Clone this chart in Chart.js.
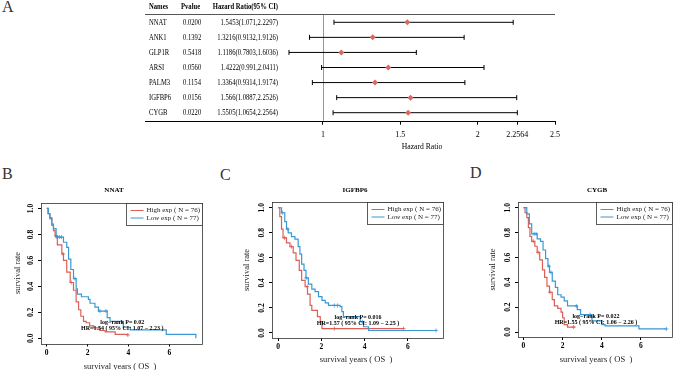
<!DOCTYPE html>
<html>
<head>
<meta charset="utf-8">
<script src="https://cdn.jsdelivr.net/npm/chart.js@4.4.1/dist/chart.umd.min.js"></script>
<style>
  html, body { margin: 0; padding: 0; background: #fff; }
  body { width: 677px; height: 370px; position: relative; overflow: hidden; font-family: "Liberation Serif", serif; }
  canvas { position: absolute; }
  .letter { position: absolute; font-size: 16px; line-height: 1; color: #333; }
</style>
</head>
<body>
<div class="letter" style="left:2px;top:-1px">A</div>
<div class="letter" style="left:2px;top:166px">B</div>
<div class="letter" style="left:220px;top:167px">C</div>
<div class="letter" style="left:470px;top:165px">D</div>

<canvas id="forest" style="left:0;top:0" width="677" height="160"></canvas>
<canvas id="kmB" style="left:0;top:175px" width="225" height="195"></canvas>
<canvas id="kmC" style="left:225px;top:175px" width="230" height="195"></canvas>
<canvas id="kmD" style="left:455px;top:175px" width="222" height="195"></canvas>

<script>
// ---- forest plot data (panel A) ----
const geneNames = ["NNAT", "ANK1", "GLP1R", "ARSI", "PALM3", "IGFBP6", "CYGB"];
const pValues = ["0.0200", "0.1392", "0.5418", "0.0560", "0.1154", "0.0156", "0.0220"];
const hazardRatios = [1.5453, 1.3216, 1.1186, 1.4222, 1.3364, 1.566, 1.5505];
const ciLower = [1.071, 0.9132, 0.7803, 0.991, 0.9314, 1.0887, 1.0654];
const ciUpper = [2.2297, 1.9126, 1.6036, 2.0411, 1.9174, 2.2526, 2.2564];
const hrTicks = [1, 1.5, 2, 2.2564, 2.5];

// ---- Kaplan-Meier curves (panels B, C, D): time in years, survival rate ----
const nnatHighT = [0, 0.06, 0.15, 0.25, 0.33, 0.41, 0.52, 0.74, 0.82, 0.98, 1.15, 1.31, 1.44, 1.56, 1.67, 1.8, 1.93, 2.1, 2.3, 2.6, 2.86, 3.35, 3.97];
const nnatHighS = [1, 0.96, 0.93, 0.87, 0.83, 0.79, 0.72, 0.65, 0.6, 0.51, 0.43, 0.37, 0.28, 0.22, 0.17, 0.13, 0.12, 0.095, 0.08, 0.06, 0.05, 0.03, 0.025];
const nnatLowT = [0, 0.08, 0.16, 0.25, 0.33, 0.46, 0.82, 0.98, 1.07, 1.18, 1.31, 1.44, 1.5, 1.7, 2.04, 2.12, 2.36, 2.53, 2.96, 3.1, 3.75, 4.09, 5.85, 7.3];
const nnatLowS = [1, 0.96, 0.92, 0.88, 0.845, 0.78, 0.74, 0.7, 0.61, 0.53, 0.46, 0.38, 0.34, 0.32, 0.3, 0.27, 0.24, 0.21, 0.16, 0.13, 0.085, 0.065, 0.03, 0.0];
const nnatHighCens = [0.45, 0.8, 1.2, 3.97];
const nnatLowCens = [0.5, 0.62, 0.72, 1.38, 2.6, 2.9];

const igfbp6HighT = [0, 0.08, 0.16, 0.23, 0.39, 0.55, 0.7, 0.83, 0.98, 1.09, 1.25, 1.36, 1.48, 1.56, 1.82, 1.95, 2.03, 5.8];
const igfbp6HighS = [1, 0.93, 0.83, 0.76, 0.72, 0.69, 0.64, 0.58, 0.5, 0.42, 0.37, 0.31, 0.22, 0.18, 0.13, 0.09, 0.035, 0.035];
const igfbp6LowT = [0, 0.16, 0.31, 0.39, 0.47, 0.62, 0.78, 0.93, 1.01, 1.09, 1.2, 1.29, 1.4, 1.56, 1.71, 1.87, 2.03, 2.18, 2.33, 2.87, 2.95, 3.02, 3.8, 3.95, 4.18, 7.3];
const igfbp6LowS = [1, 0.96, 0.89, 0.83, 0.8, 0.77, 0.75, 0.69, 0.63, 0.55, 0.5, 0.44, 0.39, 0.35, 0.33, 0.29, 0.26, 0.24, 0.22, 0.21, 0.17, 0.13, 0.09, 0.05, 0.02, 0.02];
const igfbp6HighCens = [0.3, 0.62, 1.35, 2.6, 5.8];
const igfbp6LowCens = [0.2, 0.45, 1.3, 2.6, 2.75, 3.9, 7.3];

const cygbHighT = [0, 0.08, 0.17, 0.25, 0.33, 0.42, 0.58, 0.7, 0.83, 0.97, 1.08, 1.2, 1.33, 1.47, 1.58, 1.75, 1.92, 2.0, 2.08, 2.25, 2.65];
const cygbHighS = [1, 0.96, 0.92, 0.84, 0.77, 0.73, 0.69, 0.64, 0.58, 0.5, 0.44, 0.37, 0.32, 0.26, 0.21, 0.19, 0.16, 0.115, 0.06, 0.04, 0.04];
const cygbLowT = [0, 0.17, 0.3, 0.42, 0.7, 0.87, 1.0, 1.13, 1.25, 1.33, 1.47, 1.63, 1.75, 1.92, 2.08, 2.25, 2.75, 2.92, 3.5, 4.0, 4.17, 5.9, 7.3];
const cygbLowS = [1, 0.95, 0.87, 0.79, 0.75, 0.73, 0.66, 0.59, 0.53, 0.48, 0.41, 0.36, 0.3, 0.28, 0.25, 0.21, 0.18, 0.14, 0.09, 0.06, 0.05, 0.025, 0.025];
const cygbHighCens = [0.5, 0.75, 1.35, 2.55];
const cygbLowCens = [0.55, 0.65, 1.3, 1.4, 2.7, 3.4, 7.3];

const kmXTicks = [0, 2, 4, 6];
const kmYTicks = [0, 0.2, 0.4, 0.6, 0.8, 1.0];

const SERIF = "'Liberation Serif', 'Times New Roman', serif";
const RED = "#dc5f57";
const BLUE = "#3a98d4";

// squeezed text, the table in panel A is set in a narrow face
function squeezeText(ctx, text, x, y, k) {
  const w = ctx.measureText(text).width;
  ctx.fillText(text, x, y, w * k);
}

// ---- panel A ----
const forestPlugin = {
  id: "forestDeco",
  beforeDatasetsDraw(chart) {
    const { ctx, chartArea: ca, scales: { x } } = chart;
    ctx.save();
    const x1 = Math.round(x.getPixelForValue(1)) + 0.5;
    ctx.strokeStyle = "#5fa8d0";
    ctx.lineWidth = 1;
    ctx.beginPath();
    ctx.moveTo(x1, ca.top);
    ctx.lineTo(x1, ca.bottom);
    ctx.stroke();
    ctx.restore();
  },
  afterDraw(chart) {
    const { ctx, chartArea: ca, scales: { x, y } } = chart;
    ctx.save();
    const xEnd = x.getPixelForValue(2.5);
    const top = Math.round(ca.top) + 0.5, bot = Math.round(ca.bottom) + 0.5;
    ctx.lineWidth = 1;
    ctx.strokeStyle = "#555";
    ctx.beginPath(); ctx.moveTo(145, top); ctx.lineTo(xEnd, top); ctx.stroke();
    ctx.strokeStyle = "#000";
    ctx.beginPath(); ctx.moveTo(145, bot); ctx.lineTo(xEnd, bot); ctx.stroke();

    ctx.fillStyle = "#000";
    ctx.textBaseline = "middle";
    const hy = y.getPixelForValue(-1);
    ctx.font = "bold 8.5px " + SERIF;
    ctx.textAlign = "left";
    squeezeText(ctx, "Names", 149, hy, 0.78);
    squeezeText(ctx, "Pvalue", 181, hy, 0.78);
    ctx.textAlign = "right";
    squeezeText(ctx, "Hazard Ratio(95% CI)", 278, hy, 0.78);

    ctx.font = "8.5px " + SERIF;
    geneNames.forEach((g, i) => {
      const ry = y.getPixelForValue(i);
      ctx.textAlign = "left";
      squeezeText(ctx, g, 149, ry, 0.78);
      squeezeText(ctx, pValues[i], 183, ry, 0.78);
      ctx.textAlign = "right";
      squeezeText(ctx, `${hazardRatios[i]}(${ciLower[i]},${ciUpper[i]})`, 278, ry, 0.78);
    });

    ctx.textAlign = "center";
    ctx.font = "9px " + SERIF;
    squeezeText(ctx, "Hazard Ratio", 422, 147, 0.85);
    ctx.restore();
  }
};

const forestSets = geneNames.map((g, i) => ({
  label: g,
  data: [{ x: ciLower[i], y: i }, { x: ciUpper[i], y: i }],
  showLine: true,
  borderColor: "#000",
  borderWidth: 1,
  pointStyle: "line",
  rotation: 90,
  pointRadius: 2.5,
  pointBorderColor: "#000",
  pointBorderWidth: 1
}));
forestSets.unshift({
  label: "HR",
  data: hazardRatios.map((v, i) => ({ x: v, y: i })),
  pointStyle: "rectRot",
  pointRadius: 3,
  backgroundColor: "#d66a62",
  borderColor: "#d66a62",
  borderWidth: 0
});

new Chart(document.getElementById("forest"), {
  type: "scatter",
  data: { datasets: forestSets },
  options: {
    responsive: false,
    animation: false,
    layout: { padding: { left: 284.3, right: 122, top: 14.3, bottom: 9.3 } },
    plugins: { legend: { display: false }, tooltip: { enabled: false } },
    scales: {
      x: {
        type: "linear", min: 0.75, max: 2.5,
        afterBuildTicks: s => { s.ticks = hrTicks.map(v => ({ value: v })); },
        afterFit: s => { s.height = 30; },
        ticks: { callback: v => String(v), color: "#000", font: { family: SERIF, size: 8 }, padding: 5, maxRotation: 0, autoSkip: false },
        grid: { drawOnChartArea: false, drawTicks: true, tickLength: 4, color: "#000" },
        border: { display: false }
      },
      y: { type: "linear", min: -0.531, max: 6.531, reverse: true, display: false }
    }
  },
  plugins: [forestPlugin]
});

// ---- panels B, C, D ----
function toPoints(ts, ss) { return ts.map((t, i) => ({ x: t, y: ss[i] })); }
function survAt(ts, ss, t) {
  let s = ss[0];
  for (let i = 0; i < ts.length; i++) if (ts[i] <= t) s = ss[i];
  return s;
}

function kmChart(id, p) {
  const el = document.getElementById(id);
  const W = el.width, H = el.height;
  const yW = 14, xH = 14;
  const [aL, aT, aR, aB] = p.area;

  const deco = {
    id: "kmDeco",
    afterDraw(chart) {
      const { ctx, chartArea: ca, scales: { x, y } } = chart;
      ctx.save();
      // frame
      ctx.strokeStyle = "#333";
      ctx.lineWidth = 0.8;
      ctx.strokeRect(Math.round(ca.left) + 0.5, Math.round(ca.top) + 0.5, Math.round(ca.right - ca.left), Math.round(ca.bottom - ca.top));

      // y tick labels, rotated like base R
      ctx.fillStyle = "#000";
      ctx.font = "bold 7.5px " + SERIF;
      ctx.textAlign = "center";
      ctx.textBaseline = "middle";
      kmYTicks.forEach(v => {
        ctx.save();
        ctx.translate(ca.left - 10, y.getPixelForValue(v));
        ctx.rotate(-Math.PI / 2);
        ctx.fillText(v.toFixed(1), 0, 0);
        ctx.restore();
      });

      // title and axis titles
      ctx.font = "bold 7px " + SERIF;
      ctx.fillText(p.title, p.titleX, 15);
      ctx.font = "8.5px " + SERIF;
      ctx.fillStyle = "#222";
      ctx.fillText("survival years ( OS  )", p.xlabX, p.xlabY);
      ctx.save();
      ctx.translate(p.ylabX, (ca.top + ca.bottom) / 2);
      ctx.rotate(-Math.PI / 2);
      ctx.fillText("survival rate", 0, 0);
      ctx.restore();

      // legend
      const lw = 76, lh = 22;
      const lx = Math.round(ca.right - lw) + 0.5, ly = Math.round(ca.top) + 0.5;
      ctx.fillStyle = "#fff";
      ctx.fillRect(lx, ly, lw, lh);
      ctx.strokeStyle = "#333";
      ctx.lineWidth = 0.8;
      ctx.strokeRect(lx, ly, lw, lh);
      [["High exp ( N = 76)", RED, 7], ["Low exp ( N = 77)", BLUE, 14.5]].forEach(([txt, col, dy]) => {
        ctx.strokeStyle = col;
        ctx.lineWidth = 1;
        ctx.beginPath();
        ctx.moveTo(lx + 4, ly + dy);
        ctx.lineTo(lx + 17, ly + dy);
        ctx.stroke();
        ctx.fillStyle = "#222";
        ctx.font = "7px " + SERIF;
        ctx.textAlign = "left";
        ctx.fillText(txt, lx + 20, ly + dy);
      });

      // log-rank annotation
      ctx.fillStyle = "#000";
      ctx.font = "bold 6px " + SERIF;
      ctx.textAlign = "center";
      ctx.fillText(p.pText, x.getPixelForValue(3.7), y.getPixelForValue(0.125));
      ctx.fillText(p.hrText, x.getPixelForValue(3.7), y.getPixelForValue(0.075));
      ctx.restore();
    }
  };

  new Chart(el, {
    type: "scatter",
    data: {
      datasets: [
        { label: "Low", data: toPoints(p.lowT, p.lowS), showLine: true, stepped: "before", borderColor: BLUE, borderWidth: 1.2, pointRadius: 0 },
        { label: "High", data: toPoints(p.highT, p.highS), showLine: true, stepped: "before", borderColor: RED, borderWidth: 1.2, pointRadius: 0 },
        { label: "Low cens", data: p.lowC.map(t => ({ x: t, y: survAt(p.lowT, p.lowS, t) })), pointStyle: "cross", pointRadius: 2, borderColor: BLUE, borderWidth: 0.8 },
        { label: "High cens", data: p.highC.map(t => ({ x: t, y: survAt(p.highT, p.highS, t) })), pointStyle: "cross", pointRadius: 2, borderColor: RED, borderWidth: 0.8 }
      ]
    },
    options: {
      responsive: false,
      animation: false,
      layout: { padding: { left: aL - yW, top: aT, right: W - aR, bottom: H - aB - xH } },
      plugins: { legend: { display: false }, tooltip: { enabled: false } },
      scales: {
        x: {
          type: "linear", min: -0.28, max: 7.6,
          afterBuildTicks: s => { s.ticks = kmXTicks.map(v => ({ value: v })); },
          afterFit: s => { s.height = xH; },
          ticks: { callback: v => String(v), color: "#000", font: { family: SERIF, size: 7.5, weight: "bold" }, padding: 2, maxRotation: 0, autoSkip: false },
          grid: { drawOnChartArea: false, drawTicks: true, tickLength: 3, color: "#000" },
          border: { display: false }
        },
        y: {
          type: "linear", min: -0.04, max: 1.046,
          afterBuildTicks: s => { s.ticks = kmYTicks.map(v => ({ value: v })); },
          afterFit: s => { s.width = yW; },
          ticks: { color: "rgba(0,0,0,0)", font: { size: 7 } },
          grid: { drawOnChartArea: false, drawTicks: true, tickLength: 3, color: "#000" },
          border: { display: false }
        }
      }
    },
    plugins: [deco]
  });
}

kmChart("kmB", {
  area: [41, 27.5, 202, 168.5],
  title: "NNAT", titleX: 114, xlabX: 120, xlabY: 192, ylabX: 18,
  highT: nnatHighT, highS: nnatHighS, lowT: nnatLowT, lowS: nnatLowS,
  highC: nnatHighCens, lowC: nnatLowCens,
  pText: "log\u2212rank P= 0.02", hrText: "HR=1.54 ( 95% CI: 1.07 \u2212 2.23 )"
});
kmChart("kmC", {
  area: [47, 27, 217.5, 163],
  title: "IGFBP6", titleX: 130, xlabX: 131, xlabY: 185, ylabX: 22,
  highT: igfbp6HighT, highS: igfbp6HighS, lowT: igfbp6LowT, lowS: igfbp6LowS,
  highC: igfbp6HighCens, lowC: igfbp6LowCens,
  pText: "log\u2212rank P= 0.016", hrText: "HR=1.57 ( 95% CI: 1.09 \u2212 2.25 )"
});
kmChart("kmD", {
  area: [63, 27, 220, 162],
  title: "CYGB", titleX: 142, xlabX: 141, xlabY: 185, ylabX: 38,
  highT: cygbHighT, highS: cygbHighS, lowT: cygbLowT, lowS: cygbLowS,
  highC: cygbHighCens, lowC: cygbLowCens,
  pText: "log\u2212rank P= 0.022", hrText: "HR=1.55 ( 95% CI: 1.06 \u2212 2.26 )"
});
</script>
</body>
</html>
